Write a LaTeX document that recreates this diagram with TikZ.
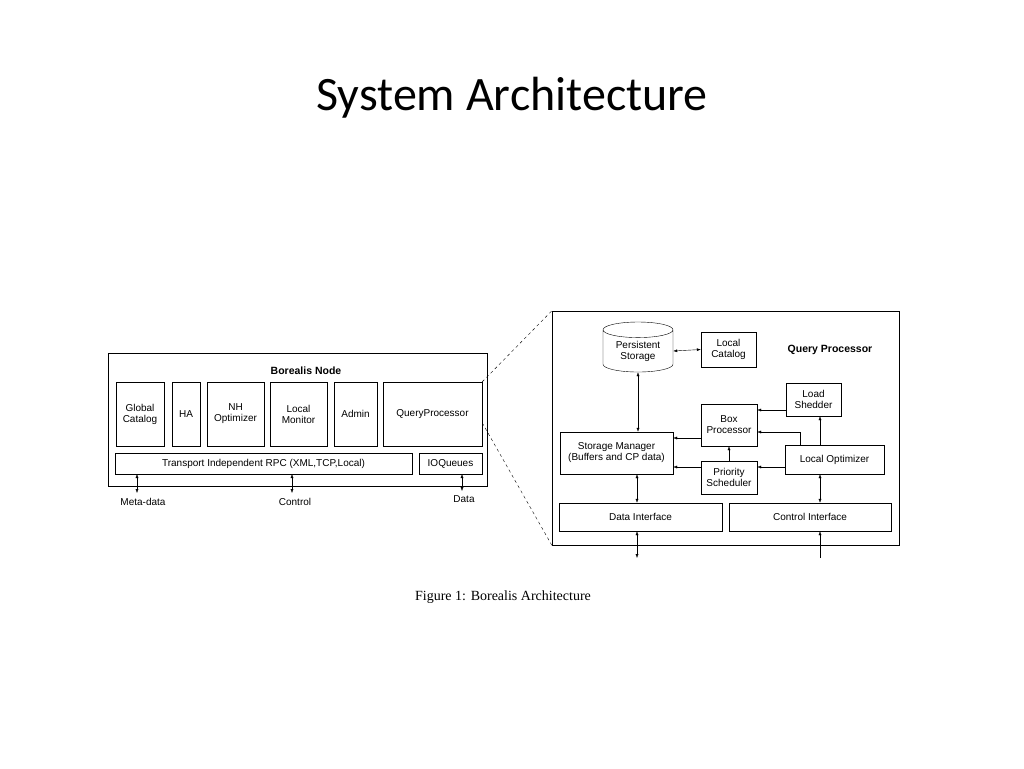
\documentclass[tikz,border=0pt]{standalone}
\usepackage{fontspec}
\setmainfont{Liberation Sans}
\newfontfamily\titlefont{Carlito}
\newfontfamily\capfont{Liberation Serif}
\usetikzlibrary{positioning,shapes.geometric,arrows.meta}

\begin{document}
\begin{tikzpicture}[x=1pt,y=-1pt,
	>={Latex[length=4pt,width=3pt]},
	box/.style={draw, inner sep=0pt, align=center, font=\fontsize{10}{11}\selectfont},
	flow/.style={->, thin},
	both/.style={<->, thin},
]
\useasboundingbox (0,0) rectangle (1024,768);

% Title
\node (title) at (512,98) {\titlefont\fontsize{48}{54}\selectfont System Architecture};

% Borealis node
\node [box, minimum width=379pt, minimum height=133pt] (borealis) at (297.5,419.5) {};
\node [font=\fontsize{10.5}{12}\selectfont\bfseries] (borealis_title) at (306,371) {Borealis Node};

\node [box, minimum width=48pt, minimum height=64pt] (global_catalog) at (140,414) {Global\\Catalog};
\node [box, minimum width=28pt, minimum height=64pt] (ha) at (186,414) {HA};
\node [box, minimum width=57pt, minimum height=64pt] (nh_optimizer) at (235.5,414) {NH\\Optimizer};
\node [box, minimum width=57pt, minimum height=64pt] (local_monitor) at (298.5,414) {Local\\Monitor};
\node [box, minimum width=43pt, minimum height=64pt] (admin) at (355.5,414) {Admin};
\node [box, minimum width=99pt, minimum height=64pt] (query_processor) at (432.5,414) {QueryProcessor};

\node [box, minimum width=297pt, minimum height=21pt] (rpc) at (263.5,463.5) {Transport Independent RPC (XML,TCP,Local)};
\node [box, minimum width=63pt, minimum height=21pt] (ioqueues) at (450.5,463.5) {IOQueues};

\node [font=\fontsize{10}{11}\selectfont] (meta_data) at (143,502) {Meta{-}data};
\node [font=\fontsize{10}{11}\selectfont] (control) at (295,502) {Control};
\node [font=\fontsize{10}{11}\selectfont] (data) at (464,499) {Data};

\coordinate (meta_top) at (137,474);
\coordinate (meta_bot) at (137,493);
\coordinate (control_top) at (292,474);
\coordinate (control_bot) at (292,493);
\coordinate (data_top) at (462,474);
\coordinate (data_bot) at (462,491);
\draw[both] (meta_top) -- (meta_bot);
\draw[both] (control_top) -- (control_bot);
\draw[both] (data_top) -- (data_bot);

% Query processor detail
\node [box, minimum width=347pt, minimum height=234pt] (qp_detail) at (725.5,428) {};
\draw[dashed, thin] (query_processor.north east) -- (qp_detail.north west);
\draw[dashed, thin] ([yshift=-41pt]query_processor.north east) -- (qp_detail.south west);

\node [font=\fontsize{10.5}{12}\selectfont\bfseries] (qp_title) at (830,350) {Query Processor};

\node [box, cylinder, shape border rotate=90, aspect=0.35, minimum width=70pt, minimum height=50pt] (persistent_storage) at (638,351) {Persistent\\Storage};
\node [box, minimum width=55pt, minimum height=35pt] (local_catalog) at (728.5,349.5) {Local\\Catalog};
\node [box, minimum width=55pt, minimum height=33pt] (load_shedder) at (813.5,399.5) {Load\\Shedder};
\node [box, minimum width=56pt, minimum height=42pt] (box_processor) at (729,425) {Box\\Processor};
\node [box, minimum width=113pt, minimum height=42pt] (storage_manager) at (616.5,453) {Storage Manager\\(Buffers and CP data)};
\node [box, minimum width=99pt, minimum height=29pt] (local_optimizer) at (834.5,459.5) {Local Optimizer};
\node [box, minimum width=56pt, minimum height=33pt] (priority_scheduler) at (729,477.5) {Priority\\Scheduler};
\node [box, minimum width=163pt, minimum height=28pt] (data_interface) at (640.5,517) {Data Interface};
\node [box, minimum width=162pt, minimum height=28pt] (control_interface) at (810,517) {Control Interface};

\coordinate (data_in) at (637,558);
\coordinate (control_in) at (820,558);
\coordinate (lo_bend) at (800,432);
\coordinate (upper_row) at (0,438);
\coordinate (lower_row) at (0,467);
\coordinate (shed_row) at (0,410);

\draw[both] (persistent_storage.east) -- (local_catalog.west);
\draw[both] (persistent_storage.south) -- (storage_manager.north -| persistent_storage.south);
\draw[flow] (box_processor.west |- upper_row) -- (storage_manager.east |- upper_row);
\draw[flow] (priority_scheduler.west |- lower_row) -- (storage_manager.east |- lower_row);
\draw[flow] (priority_scheduler) -- (box_processor);
\draw[flow] (load_shedder.west |- shed_row) -- (box_processor.east |- shed_row);
\draw[flow] (local_optimizer.north -| lo_bend) -- (lo_bend) -- (box_processor.east |- lo_bend);
\draw[flow] (local_optimizer.north -| control_in) -- (load_shedder.south -| control_in);
\draw[flow] (local_optimizer.west |- lower_row) -- (priority_scheduler.east |- lower_row);
\draw[both] (storage_manager.south -| data_in) -- (data_interface.north -| data_in);
\draw[both] (local_optimizer.south -| control_in) -- (control_interface.north -| control_in);
\draw[both] (data_interface.south -| data_in) -- (data_in);
\draw[flow] (control_in) -- (control_interface.south -| control_in);

% Caption
\node (caption) at (503,597) {\capfont\fontsize{14}{16}\selectfont Figure 1: Borealis Architecture};
\end{tikzpicture}
\end{document}
